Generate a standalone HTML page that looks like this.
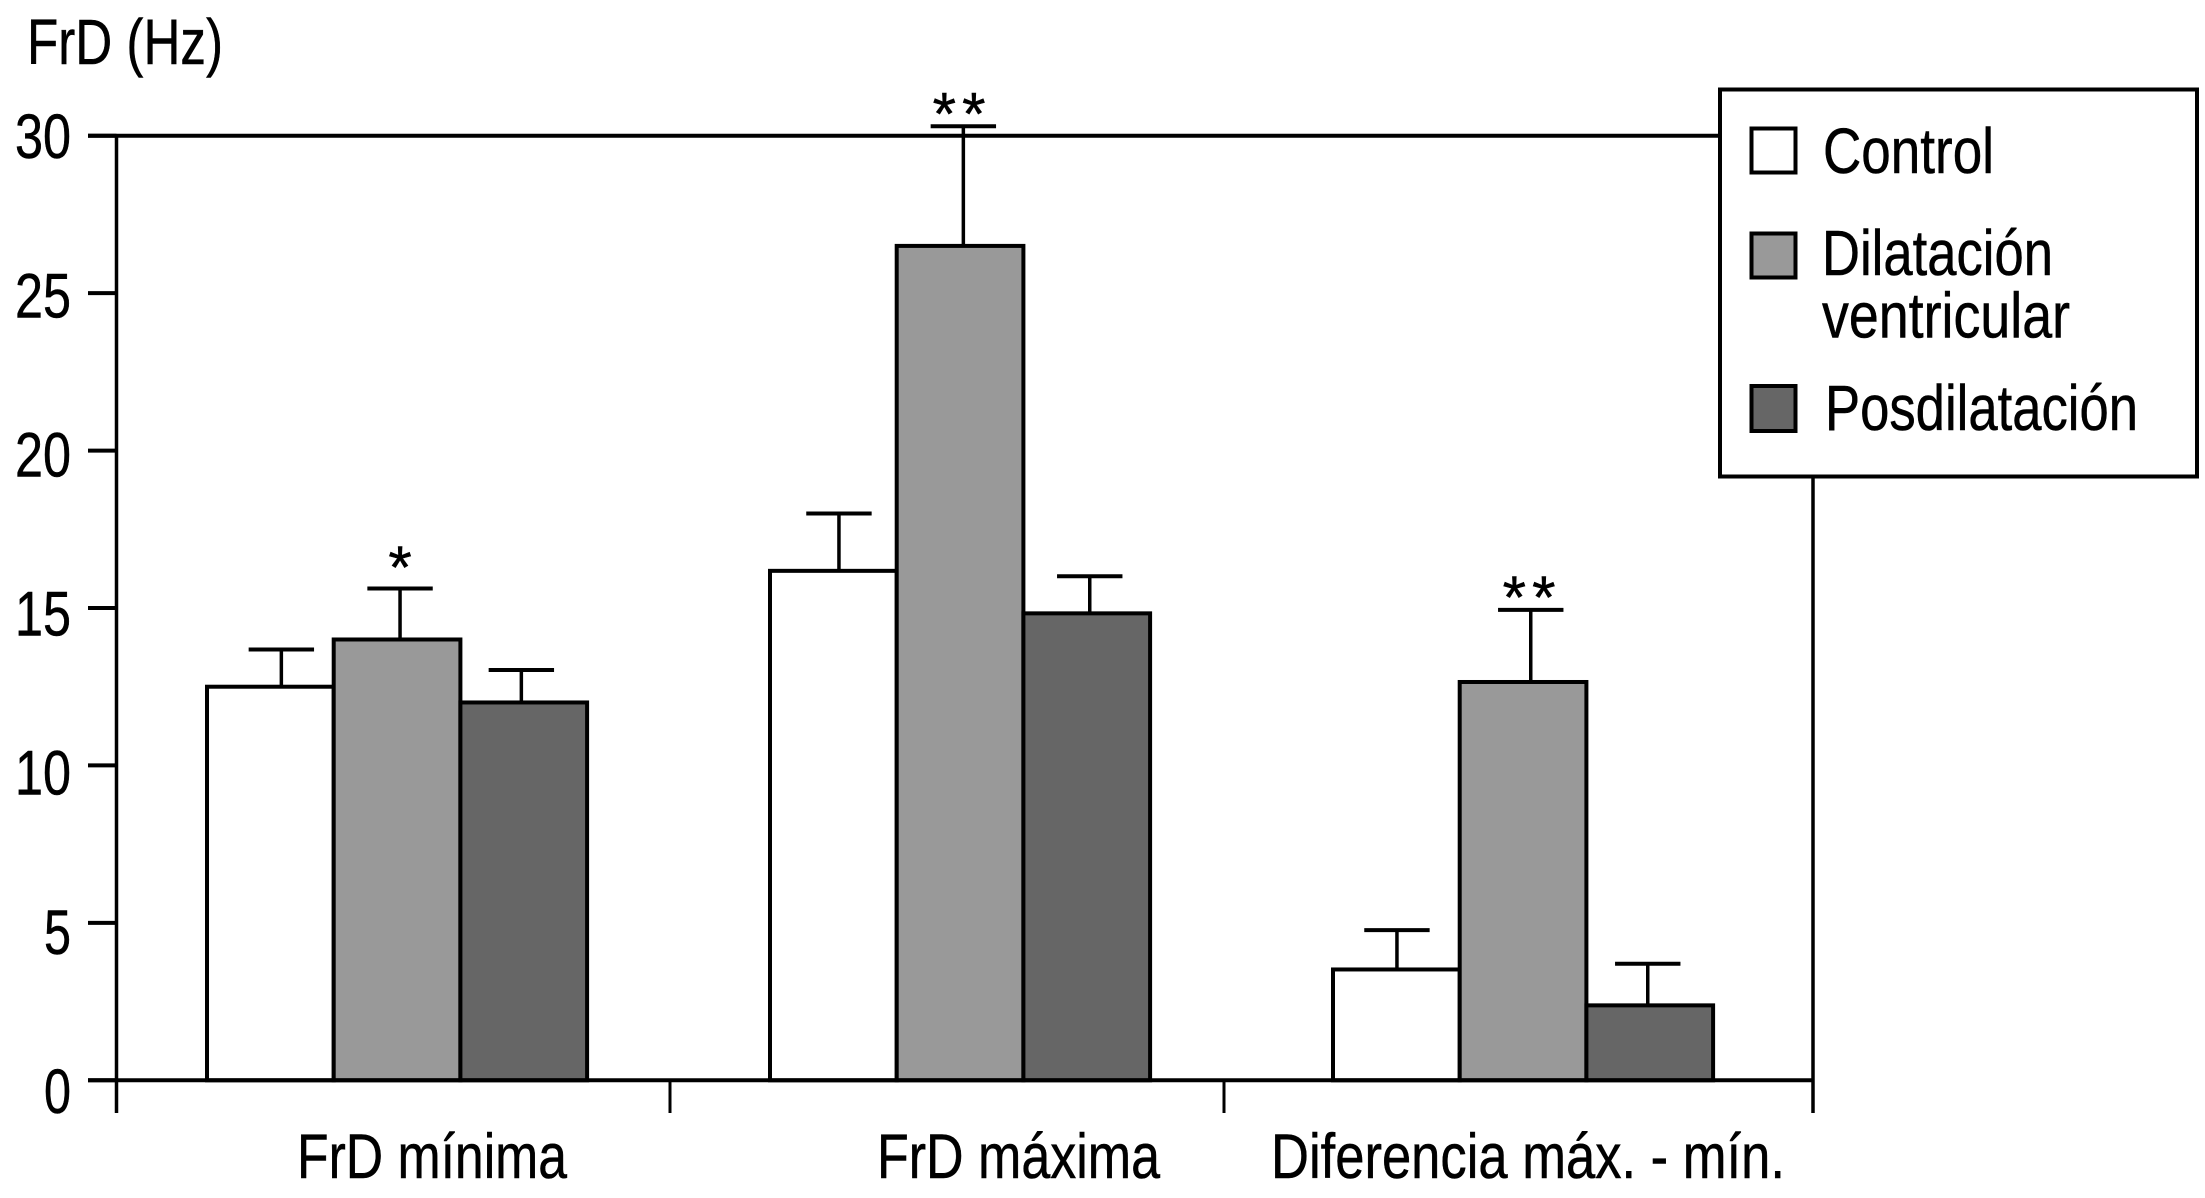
<!DOCTYPE html>
<html lang="es">
<head>
<meta charset="utf-8">
<title>FrD (Hz)</title>
<style>
  html, body { margin: 0; padding: 0; background: #fff; }
  svg { display: block; }
  text { font-family: "Liberation Sans", sans-serif; fill: #000; stroke: #000; stroke-width: 0.5px; }
</style>
</head>
<body>
<svg id="chart" xmlns="http://www.w3.org/2000/svg" width="2205" height="1198" viewBox="0 0 2205 1198">
  <rect x="0" y="0" width="2205" height="1198" fill="#fff"/>
  <text x="27" y="64" font-size="64" textLength="196" lengthAdjust="spacingAndGlyphs">FrD (Hz)</text>
  <g id="bars"></g>
  <g id="axes"></g>
  <g id="stars"></g>
  <g>
    <rect x="1720" y="89.5" width="477" height="387" fill="#fff" stroke="#000" stroke-width="4"/>
    <rect x="1751.5" y="128.5" width="44" height="44" fill="#fff" stroke="#000" stroke-width="4"/>
    <text x="1823" y="173" font-size="64" textLength="171" lengthAdjust="spacingAndGlyphs">Control</text>
    <rect x="1751.5" y="233.5" width="44" height="44" fill="#999" stroke="#000" stroke-width="4"/>
    <text x="1822" y="275" font-size="64" textLength="231" lengthAdjust="spacingAndGlyphs">Dilatación</text>
    <text x="1822" y="337.5" font-size="64" textLength="248" lengthAdjust="spacingAndGlyphs">ventricular</text>
    <rect x="1751.5" y="386" width="44" height="45" fill="#666" stroke="#000" stroke-width="4"/>
    <text x="1825" y="430" font-size="64" textLength="313" lengthAdjust="spacingAndGlyphs">Posdilatación</text>
  </g>
</svg>
<script>
const categories = ["FrD mínima", "FrD máxima", "Diferencia máx. - mín."];
const seriesNames = ["control", "dilatacion-ventricular", "posdilatacion"];
const controlValues = [12.5, 16.18, 3.52];
const dilatacionValues = [14.0, 26.5, 12.65];
const posdilatacionValues = [12.0, 14.83, 2.38];
const controlErrorTops = [13.68, 18.0, 4.77];
const dilatacionErrorTops = [15.62, 30.3, 14.94];
const posdilatacionErrorTops = [13.03, 16.01, 3.7];
const significanceStars = [[0, 1, 0], [0, 2, 0], [0, 2, 0]];
const yTicks = [0, 5, 10, 15, 20, 25, 30];

const values = [controlValues, dilatacionValues, posdilatacionValues];
const errorTops = [controlErrorTops, dilatacionErrorTops, posdilatacionErrorTops];

// Layout (not data)
const plot = { left: 116.5, right: 1813, top: 135.7, base: 1080.3, tickEnd: 1113, tickStart: 88 };
const seriesFill = ["#fff", "#999", "#666"];
const groupStart = 207, groupStep = 563, barWidth = 126.7;
const whiskerNudge = [[11, 5.6, 0.6], [3, 3.3, 7.7], [-2.4, 3, -2]];
const starNudgeX = [3, -1, 6];
const starGapY = [27.3, 18.7, 18.7];
const separatorX = [116.5, 670, 1224, 1813];
const categoryLabelBox = [[297, 270], [877, 283], [1271, 514]];

const svg = document.getElementById('chart');
const NS = 'http://www.w3.org/2000/svg';

function yScale(v) { return plot.base - v * (plot.base - plot.top) / 30; }
function xScale(g, s) { return groupStart + g * groupStep + s * barWidth; }
function labelBaseline(v) { return 1113 - v * 31.83; }

function make(parent, tag, attrs) {
  const el = document.createElementNS(NS, tag);
  for (const k in attrs) el.setAttribute(k, attrs[k]);
  parent.appendChild(el);
  return el;
}

const barsG = document.getElementById('bars');
const axesG = document.getElementById('axes');
const starsG = document.getElementById('stars');

categories.forEach(function (cat, g) {
  seriesNames.forEach(function (name, s) {
    const x = xScale(g, s);
    const center = x + barWidth / 2;
    const cx = center + whiskerNudge[s][g];
    const topY = yScale(values[s][g]);
    const errY = yScale(errorTops[s][g]);

    const stem = make(barsG, 'line', { x1: cx, x2: cx, y1: topY, y2: errY, stroke: '#000', 'stroke-width': 3.5 });
    
    

    const cap = make(barsG, 'line', { x1: cx - 32.7, x2: cx + 32.7, y1: errY, y2: errY, stroke: '#000', 'stroke-width': 4 });
    
    

    const bar = make(barsG, 'rect', { x: x, y: topY, width: barWidth, height: plot.base - topY, fill: seriesFill[s], stroke: '#000', 'stroke-width': 4 });
    
    

    const count = significanceStars[g][s];
    for (let i = 0; i < count; i++) {
      const star = make(starsG, 'text', { x: center + starNudgeX[g] + (i - (count - 1) / 2) * 29.5, y: errY - starGapY[g] + 27, 'font-size': 60, 'text-anchor': 'middle' });
      
      
      star.textContent = '*';
    }
  });

  const label = make(axesG, 'text', { x: categoryLabelBox[g][0], y: 1178, 'font-size': 63, textLength: categoryLabelBox[g][1], lengthAdjust: 'spacingAndGlyphs' });
  
  
  label.textContent = cat;
});

const topLine = make(axesG, 'line', { x1: plot.tickStart, x2: 1722, y1: plot.top, y2: plot.top, stroke: '#000', 'stroke-width': 4 });



const yAxis = make(axesG, 'line', { x1: plot.left, x2: plot.left, y1: plot.top, y2: plot.tickEnd, stroke: '#000', 'stroke-width': 3.5 });



const xAxis = make(axesG, 'line', { x1: plot.tickStart, x2: plot.right, y1: plot.base, y2: plot.base, stroke: '#000', 'stroke-width': 4 });



const rightBorder = make(axesG, 'line', { x1: plot.right, x2: plot.right, y1: plot.top, y2: plot.tickEnd, stroke: '#000', 'stroke-width': 3.5 });



separatorX.forEach(function (x) {
  const t = make(axesG, 'line', { x1: x, x2: x, y1: plot.base, y2: plot.tickEnd, stroke: '#000', 'stroke-width': 3 });
  
  
});

yTicks.forEach(function (v) {
  const y = yScale(v);
  const t = make(axesG, 'line', { x1: plot.tickStart, x2: plot.left, y1: y, y2: y, stroke: '#000', 'stroke-width': 4 });
  
  

  const s = String(v);
  const lab = make(axesG, 'text', { x: 71, y: labelBaseline(v), 'font-size': 63, 'text-anchor': 'end', textLength: s.length > 1 ? 56 : 27, lengthAdjust: 'spacingAndGlyphs' });
  
  
  lab.textContent = s;
});
</script>
</body>
</html>
